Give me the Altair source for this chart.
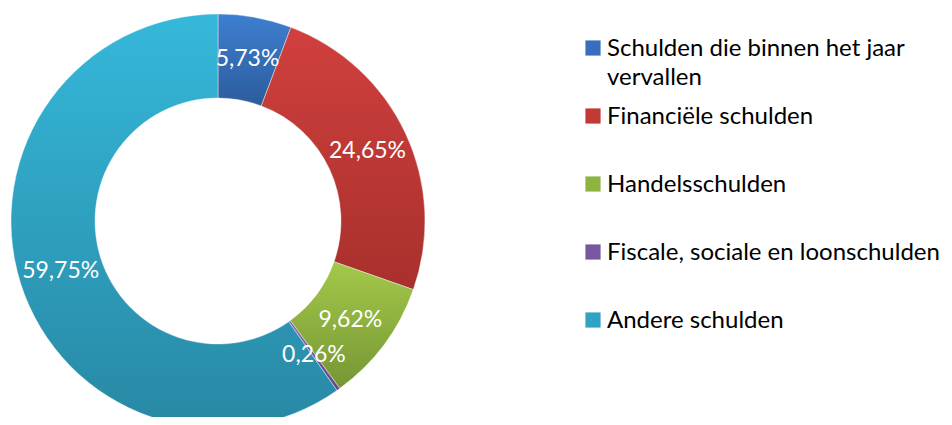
import altair as alt
import pandas as pd

categories = [
    "Schulden die binnen het jaar\nvervallen",
    "Financiële schulden",
    "Handelsschulden",
    "Fiscale, sociale en loonschulden",
    "Andere schulden",
]
values = [5.73, 24.65, 9.62, 0.26, 59.75]
labels = ["5,73%", "24,65%", "9,62%", "0,26%", "59,75%"]
top_colors = ["#3e7fd0", "#d0403e", "#a3c94a", "#8a68b5", "#35b8da"]
bottom_colors = ["#2c5c9c", "#a8302c", "#769634", "#5f4585", "#2888a4"]
mid_colors = ["#376fbd", "#c23a36", "#8fb33f", "#77579e", "#2fa3c3"]

total = sum(values)
starts, ends, acc = [], [], 0.0
for v in values:
    starts.append(acc)
    acc += v
    ends.append(acc)

df = pd.DataFrame({
    "cat": categories,
    "idx": list(range(len(categories))),
    "value": values,
    "label": labels,
    "start": starts,
    "end": ends,
    "mid": [(s + e) / 2 for s, e in zip(starts, ends)],
})

CX, CY = 210, 213
FONT = "Lato"
theta_scale = alt.Scale(domain=[0, total], range=[0, 6.283185307179586])
base = alt.Chart(df)

layers = []
for i, cat in enumerate(categories):
    grad = {
        "gradient": "linear", "x1": 0, "y1": 0, "x2": 0, "y2": 1,
        "stops": [{"offset": 0, "color": top_colors[i]}, {"offset": 1, "color": bottom_colors[i]}],
    }
    layers.append(
        base.transform_filter(alt.datum.idx == i)
        .mark_arc(innerRadius=123, outerRadius=207, fill=grad, stroke="#ffffff", strokeWidth=0.4)
        .encode(
            theta=alt.Theta("start:Q", scale=theta_scale),
            theta2="end:Q",
            x=alt.value(CX),
            y=alt.value(CY),
        )
    )

pct = base.mark_text(radius=165, font=FONT, fontSize=23, color="white").encode(
    theta=alt.Theta("mid:Q", scale=theta_scale),
    text="label:N",
    x=alt.value(CX),
    y=alt.value(CY),
)

yscale = alt.Scale(type="point", domain=list(range(5)), range=[40, 312], padding=0)
leg_sq = base.mark_square(size=230, opacity=1).encode(
    x=alt.value(585),
    y=alt.Y("idx:O", scale=yscale, axis=None),
    color=alt.Color("idx:O", scale=alt.Scale(domain=list(range(5)), range=mid_colors), legend=None),
)
leg_txt = base.mark_text(align="left", baseline="alphabetic", dy=8, lineBreak="\n", lineHeight=29,
                         font=FONT, fontSize=24, color="#000000").encode(
    x=alt.value(599),
    y=alt.Y("idx:O", scale=yscale, axis=None),
    text="cat:N",
)

chart = alt.layer(*layers, pct, leg_sq, leg_txt).properties(
    width=936, height=409, padding=0, autosize="none"
).configure_view(stroke=None)

chart.save("out.html", embed_options={"renderer": "svg", "actions": False})
